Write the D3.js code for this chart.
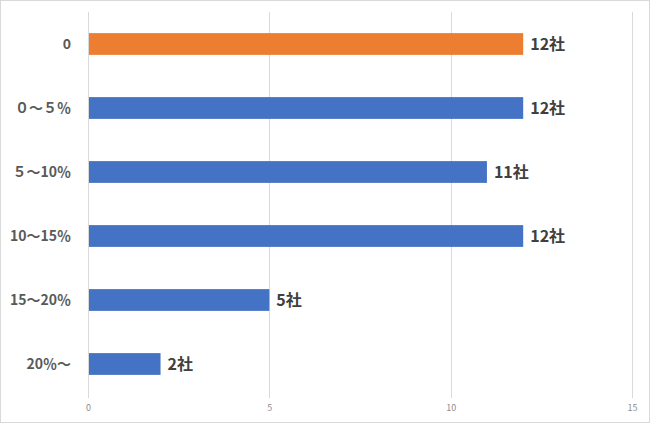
<!DOCTYPE html>
<html><head><meta charset="utf-8">
<script src="https://cdn.jsdelivr.net/npm/d3@7"></script>
<style>
html,body{margin:0;padding:0;background:#fff;}
svg{display:block;}
</style></head>
<body>
<svg id="c" width="650" height="423"></svg>
<script>
const categories = ["0", "０～５％", "５～10％", "10～15％", "15～20％", "20％～"];
const values = [12, 12, 11, 12, 5, 2];
const valueLabels = ["12社", "12社", "11社", "12社", "5社", "2社"];
const barColors = ["#ED7D31", "#4472C4", "#4472C4", "#4472C4", "#4472C4", "#4472C4"];
const xTicks = [0, 5, 10, 15];

(function(){
const svg = d3.select("#c");
const W = 650, H = 423;
svg.append("rect").attr("x",0.5).attr("y",0.5).attr("width",W-1).attr("height",H-1)
  .attr("fill","#fff").attr("stroke","#d9d9d9");

const mLeft = 88, mRight = 632, mTop = 12, mBottom = 396;
const x = d3.scaleLinear().domain([0,15]).range([mLeft,mRight]);
const y = d3.scaleBand().domain(categories).range([mTop,mBottom]).paddingInner(0.66).paddingOuter(0.33);

svg.append("g").selectAll("line").data(xTicks).join("line")
  .attr("x1",d=>Math.round(x(d))+0.5).attr("x2",d=>Math.round(x(d))+0.5)
  .attr("y1",mTop).attr("y2",mBottom+2)
  .attr("stroke","#d9d9d9").attr("stroke-width",1);

const xa = svg.append("g").attr("transform",`translate(0,${mBottom})`)
  .call(d3.axisBottom(x).tickValues(xTicks).tickSize(0).tickPadding(9));
xa.select(".domain").remove();
xa.selectAll("text").attr("fill","#8c8c8c").style("font-family","Noto Sans CJK JP, sans-serif").style("font-size","9px");

svg.append("g").selectAll("rect").data(values).join("rect")
  .attr("x",x(0)+1).attr("y",(d,i)=>y(categories[i]))
  .attr("width",d=>x(d)-x(0)-1).attr("height",y.bandwidth())
  .attr("fill",(d,i)=>barColors[i]);

svg.append("g").selectAll("text").data(categories).join("text")
  .attr("x",71).attr("y",d=>y(d)+y.bandwidth()/2)
  .attr("dy","0.36em").attr("text-anchor","end")
  .attr("fill","#595959").style("font-family","Noto Sans CJK JP, sans-serif")
  .style("font-weight","bold").style("font-size","14px").text(d=>d);

svg.append("g").selectAll("text").data(values).join("text")
  .attr("x",d=>x(d)+7).attr("y",(d,i)=>y(categories[i])+y.bandwidth()/2)
  .attr("dy","0.36em")
  .attr("fill","#404040").style("font-family","Noto Sans CJK JP, sans-serif")
  .style("font-weight","bold").style("font-size","16px").text((d,i)=>valueLabels[i]);
})();
</script>
</body></html>
